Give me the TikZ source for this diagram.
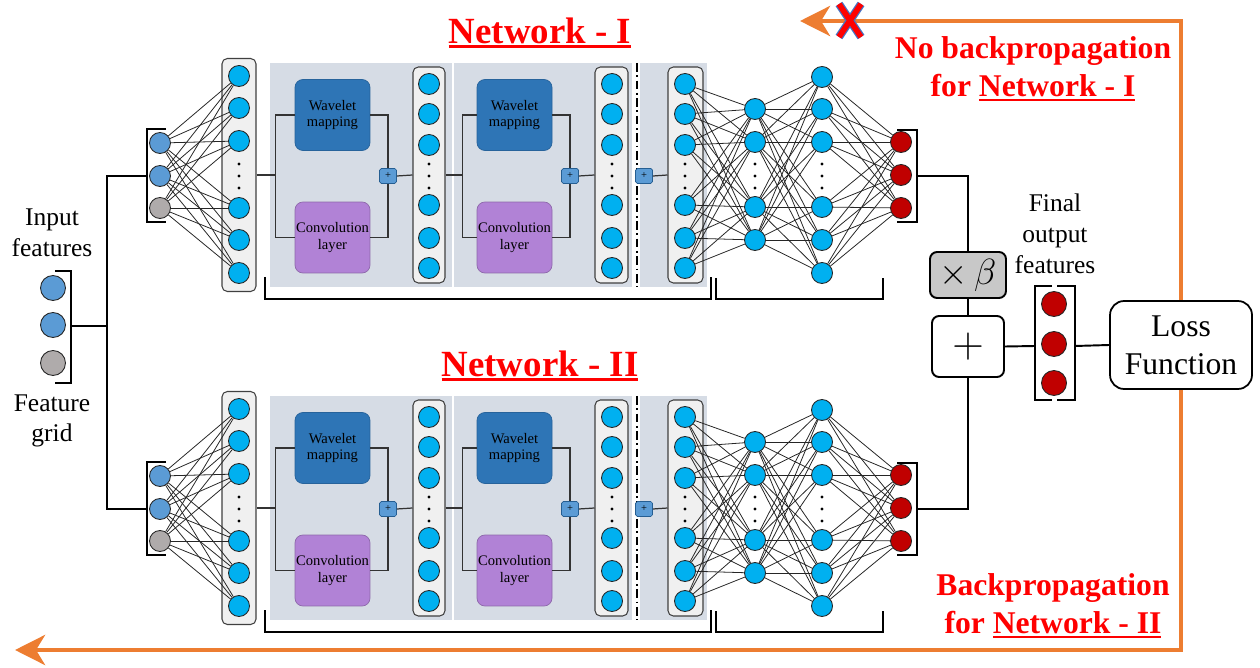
\documentclass[tikz,border=0pt]{standalone}
\usepackage{fontspec}
\setmainfont{Liberation Serif}
\usepackage{tikz}
\usetikzlibrary{arrows.meta,positioning}
\definecolor{NodeCyan}{RGB}{0,176,240}
\definecolor{InBlue}{RGB}{91,155,213}
\definecolor{InGray}{RGB}{175,171,171}
\definecolor{OutRed}{RGB}{192,0,0}
\definecolor{WaveBlue}{RGB}{46,117,182}
\definecolor{ConvPurple}{RGB}{177,130,214}
\definecolor{PanelBg}{RGB}{214,220,229}
\definecolor{LayerBg}{RGB}{240,240,240}
\definecolor{OpGray}{RGB}{200,200,200}
\definecolor{BPOrange}{RGB}{237,125,49}
\definecolor{NoteRed}{RGB}{255,0,0}
\definecolor{XBlue}{RGB}{68,114,196}
\newcommand{\thickul}[1]{\setbox0\hbox{#1}\rlap{\rule[-0.14em]{\wd0}{0.08em}}\box0}

\begin{document}
\begin{tikzpicture}[x=0.02cm,y=-0.02cm,
    neuron/.style={circle,draw=black!85,fill=NodeCyan,minimum size=0.42cm,inner sep=0pt,line width=0.5pt},
    inneuron/.style={neuron,fill=InBlue},
    gridneuron/.style={neuron,fill=InGray},
    outneuron/.style={neuron,fill=OutRed},
    layerbox/.style={draw=black!75,fill=LayerBg,rounded corners=3pt,line width=0.6pt,inner sep=0pt},
    block/.style={fill=PanelBg,inner sep=0pt,minimum height=4.48cm},
    wbox/.style={draw=WaveBlue!85!black,fill=WaveBlue,rounded corners=4.5pt,inner sep=0pt,
                 minimum width=1.5cm,minimum height=1.42cm,align=center,
                 font=\fontsize{8.3}{9.5}\selectfont},
    cbox/.style={wbox,fill=ConvPurple,draw=ConvPurple!80!black},
    addbox/.style={draw=WaveBlue!80!black,fill=InBlue,rounded corners=1pt,inner sep=0pt,
                   minimum width=0.34cm,minimum height=0.3cm,font=\fontsize{6}{6}\selectfont},
    opbox/.style={draw=black,line width=1.1pt,rounded corners=4pt,inner sep=0pt},
    lossbox/.style={draw=black,line width=1pt,rounded corners=8pt,inner sep=0pt,
                    minimum width=2.84cm,minimum height=1.76cm,align=center,
                    font=\fontsize{18}{21.5}\selectfont},
    wire/.style={black!80,line width=0.7pt},
    syn/.style={black!85,line width=0.45pt},
    link/.style={black,line width=1.1pt},
    brack/.style={black,line width=1.1pt},
    brace/.style={black,line width=0.6pt},
    bp/.style={BPOrange,line width=2.8pt,-{Stealth[length=0.6cm,width=0.6cm,inset=0.18cm]}},
    nettitle/.style={text=NoteRed,font=\fontsize{21}{25}\selectfont\bfseries},
    note/.style={text=NoteRed,font=\fontsize{18}{21.5}\selectfont\bfseries,align=center},
    capt/.style={font=\fontsize{14.5}{17.5}\selectfont,align=center},
    xedge/.style={line width=4.6pt,draw=XBlue},
    xcore/.style={line width=3.2pt,draw=NoteRed}
  ]
  \useasboundingbox (0,0) rectangle (1260,668);

  % shared input
  \node[inneuron,minimum size=0.5cm] (f1) at (53,288) {};
  \node[inneuron,minimum size=0.5cm] (f2) at (53,325) {};
  \node[gridneuron,minimum size=0.5cm] (f3) at (53,363) {};
  \draw[brack] (55,271) -| (71,383) -- (55,383);
  \coordinate (fb) at (71,326);
  \coordinate (tr) at (107,326);
  \node[capt] (infeat) at (52,233) {Input\\features};
  \node[capt] (fgrid) at (52,421) {Feature\\grid};

  % the two networks
  \foreach \net/\dy/\rom in {1/0/I,2/333/II}{
  \begin{scope}[shift={(0,\dy)}]
    \node[nettitle] (t\net) at (540,33) {\thickul{Network - \rom}};
    \node[block,minimum width=3.64cm] (b\net-1) at (361,175) {};
    \node[block,minimum width=3.56cm] (b\net-2) at (543,175) {};
    \node[block,minimum width=1.34cm] (b\net-3) at (673.5,175) {};
    \draw[line width=0.9pt,dash pattern=on 5pt off 2pt on 1pt off 2pt] (637,63) -- (637,287);

    \node[layerbox,minimum width=0.68cm,minimum height=4.66cm] (p\net-1) at (239,175) {};
    \node[layerbox,minimum width=0.64cm,minimum height=4.32cm] (p\net-2) at (429,175) {};
    \node[layerbox,minimum width=0.66cm,minimum height=4.32cm] (p\net-3) at (611.5,175) {};
    \node[layerbox,minimum width=0.70cm,minimum height=4.32cm] (p\net-4) at (685.5,175) {};

    \node[wbox] (w\net-1) at (332.5,115) {Wavelet\\mapping};
    \node[cbox] (c\net-1) at (332.5,237.5) {Convolution\\layer};
    \node[wbox] (w\net-2) at (514.5,115) {Wavelet\\mapping};
    \node[cbox] (c\net-2) at (514.5,237.5) {Convolution\\layer};
    \node[addbox] (a\net-1) at (388,176) {+};
    \node[addbox] (a\net-2) at (570,176) {+};
    \node[addbox] (a\net-3) at (644,176) {+};

    % neurons
    \node[inneuron] (i\net-1) at (160,143) {};
    \node[inneuron] (i\net-2) at (160,176) {};
    \node[gridneuron] (i\net-3) at (160,208) {};
    \foreach \y [count=\k] in {76,108,141,208,240,273}
      \node[neuron] (l\net-1-\k) at (239,\y) {};
    \foreach \x [count=\m from 2] in {429,612,685}
      \foreach \y [count=\k] in {84,114,145,205,238,268}
        \node[neuron] (l\net-\m-\k) at (\x,\y) {};
    \foreach \y [count=\k] in {109,142,207,240}
      \node[neuron] (da\net-\k) at (755,\y) {};
    \foreach \y [count=\k] in {77,109,142,207,240,273}
      \node[neuron] (db\net-\k) at (822,\y) {};
    \foreach \y [count=\k] in {142,175,208}
      \node[outneuron] (o\net-\k) at (901,\y) {};
    \foreach \x in {239,429,612,685,755,822}
      \foreach \y in {164,176,188}
        \fill (\x,\y) circle (0.9pt);

    % brackets
    \draw[brack] (166,129) -| (147,222) -- (166,222);
    \coordinate (ib\net) at (147,176);
    \draw[brack] (897,130) -| (917,222) -- (897,222);
    \coordinate (ob\net) at (917,176);
    \draw[brace] (265,277) |- (711,299) -- (711,277);
    \draw[brace] (716,278) |- (883,299) -- (883,278);

    % wiring of the wavelet blocks
    \draw[wire] (p\net-1.east) -- ++(19,0) coordinate (s\net-1) |- (w\net-1.west);
    \draw[wire] (s\net-1) |- (c\net-1.west);
    \draw[wire] (w\net-1.east) -| (a\net-1.north);
    \draw[wire] (c\net-1.east) -| (a\net-1.south);
    \draw[wire] (a\net-1.east) -- (p\net-2.west);
    \draw[wire] (p\net-2.east) -- ++(17,0) coordinate (s\net-2) |- (w\net-2.west);
    \draw[wire] (s\net-2) |- (c\net-2.west);
    \draw[wire] (w\net-2.east) -| (a\net-2.north);
    \draw[wire] (c\net-2.east) -| (a\net-2.south);
    \draw[wire] (a\net-2.east) -- (p\net-3.west);
    \draw[wire] (a\net-3.east) -- (p\net-4.west);

    % dense connections
    \foreach \i in {1,2,3}
      \foreach \j in {1,...,6}
        \draw[syn] (i\net-\i) -- (l\net-1-\j);
    \foreach \i in {1,...,6}
      \foreach \j in {1,...,4}
        \draw[syn] (l\net-4-\i) -- (da\net-\j);
    \foreach \i in {1,...,4}
      \foreach \j in {1,...,6}
        \draw[syn] (da\net-\i) -- (db\net-\j);
    \foreach \i in {1,...,6}
      \foreach \j in {1,2,3}
        \draw[syn] (db\net-\i) -- (o\net-\j);
  \end{scope}
  }

  \draw[link] (fb) -- (tr);
  \draw[link] (ib1) -| (tr) |- (ib2);

  % combination and loss
  \node[opbox,fill=OpGray,minimum width=1.52cm,minimum height=0.92cm,
        font=\fontsize{20.74}{24}\selectfont] (beta) at (968,275) {$\times\,\beta$};
  \node[opbox,fill=white,minimum width=1.44cm,minimum height=1.22cm,
        font=\fontsize{24.88}{28}\selectfont] (sum) at (968,346.5) {$+$};
  \draw[link] (ob1) -| (beta.north);
  \draw[link] (beta.south) -- (sum.north);
  \draw[link] (ob2) -| (sum.south);

  \node[outneuron,minimum size=0.5cm] (fo1) at (1054,304) {};
  \node[outneuron,minimum size=0.5cm] (fo2) at (1054,344) {};
  \node[outneuron,minimum size=0.5cm] (fo3) at (1054,383) {};
  \draw[brack] (1052,286) -| (1035,400) -- (1052,400);
  \draw[brack] (1057,286) -| (1075,400) -- (1057,400);
  \coordinate (fl) at (1035,346);
  \coordinate (fr) at (1075,346);
  \node[capt] (finlab) at (1055,234) {Final\\output\\features};

  \node[lossbox] (loss) at (1181,345) {Loss\\Function};
  \draw[link] (sum.east) -- (fl);
  \draw[link] (fr) -- (loss.west);

  % backpropagation paths
  \coordinate (bpTop) at (800,21);
  \coordinate (bpBot) at (15,650);
  \draw[bp] (loss.north) |- (bpTop);
  \draw[bp] (loss.south) |- (bpBot);
  \draw[xedge] (839,4) -- (861,37) (861,4) -- (839,37);
  \draw[xcore] (839,4) -- (861,37) (861,4) -- (839,37);
  \node[note] (nobp) at (1033,69) {No backpropagation\\for \thickul{Network - I}};
  \node[note] (yesbp) at (1053,606) {Backpropagation\\for \thickul{Network - II}};
\end{tikzpicture}
\end{document}
